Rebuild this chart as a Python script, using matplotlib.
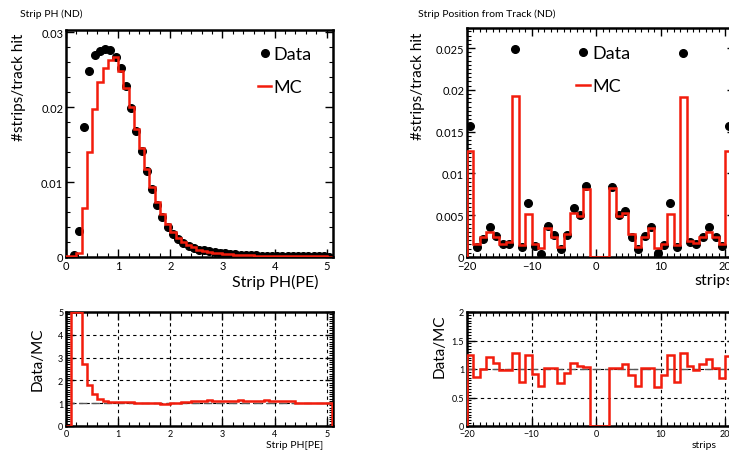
import numpy as np
import matplotlib
matplotlib.use('Agg')
import matplotlib.pyplot as plt
from matplotlib.ticker import MultipleLocator, FixedLocator

plt.rcParams['font.family'] = ['Lato', 'DejaVu Sans']

# ---- Strip PH (ND): bins of 0.1 PE from 0 to 5.1
ph_mc = [0.0001, 0.00015, 0.0006, 0.0065, 0.0140, 0.0197, 0.0233, 0.0252, 0.0263, 0.0267,
         0.0248, 0.0226, 0.0200, 0.0171, 0.0145, 0.0117, 0.0093, 0.0073, 0.0057, 0.0044,
         0.0033, 0.0026, 0.0020, 0.0016, 0.0013, 0.0010, 0.0008, 0.0007, 0.0006, 0.0005,
         0.0004, 0.00035, 0.0003, 0.00027, 0.00024, 0.00021, 0.00019, 0.00017, 0.00015, 0.00014,
         0.00013, 0.00012, 0.00011, 0.0001, 0.0001, 0.00009, 0.00008, 0.00008, 0.00007, 0.00007,
         0.00006]
ph_data = [0.0, 0.0003, 0.0035, 0.0174, 0.0248, 0.0269, 0.0275, 0.0278, 0.0276, 0.0267,
           0.0252, 0.0228, 0.0199, 0.0168, 0.0141, 0.0115, 0.0091, 0.0069, 0.0053, 0.0040,
           0.0031, 0.0024, 0.0019, 0.0015, 0.0012, 0.0010, 0.0009, 0.0008, 0.0007, 0.0006,
           0.0005, 0.00042, 0.00036, 0.00031, 0.00027, 0.00024, 0.00021, 0.00019, 0.00017, 0.00015,
           0.00014, 0.00013, 0.00012, 0.00011, 0.0001, 0.00009, 0.00008, 0.00008, 0.00007, 0.00007,
           0.00006]
ph_ratio = [0.0, 5.0, 5.0, 2.7, 1.8, 1.4, 1.2, 1.1, 1.05, 1.05,
            1.05, 1.05, 1.04, 1.03, 1.02, 1.02, 1.0, 1.0, 0.97, 0.97,
            1.0, 1.02, 1.04, 1.06, 1.08, 1.1, 1.1, 1.12, 1.1, 1.1,
            1.08, 1.1, 1.1, 1.12, 1.1, 1.08, 1.1, 1.1, 1.12, 1.1,
            1.1, 1.1, 1.1, 1.1, 1.0, 1.0, 1.0, 1.0, 1.0, 1.0,
            1.0]

# ---- Strip Position from Track (ND): 1-strip bins from -20 to 21
pos_mc = [0.0127, 0.0015, 0.0024, 0.0030, 0.0024, 0.0016, 0.0018, 0.0193, 0.0014, 0.0052,
          0.0016, 0.0011, 0.0035, 0.0024, 0.0012, 0.0027, 0.0053, 0.0049, 0.0081, 0.0,
          0.0, 0.0, 0.0083, 0.0049, 0.0053, 0.0027, 0.0012, 0.0024, 0.0035, 0.0011,
          0.0016, 0.0052, 0.0014, 0.0192, 0.0019, 0.0017, 0.0024, 0.0030, 0.0024, 0.0016,
          0.0127]
pos_data = [0.0157, 0.0012, 0.0022, 0.0036, 0.0025, 0.0015, 0.0016, 0.0249, 0.0012, 0.0065,
            0.0013, 0.0004, 0.0037, 0.0026, 0.0009, 0.0026, 0.0059, 0.0050, 0.0085, 0.0,
            0.0, 0.0, 0.0084, 0.0050, 0.0055, 0.0024, 0.0009, 0.0025, 0.0036, 0.0005,
            0.0014, 0.0065, 0.0012, 0.0244, 0.0018, 0.0016, 0.0024, 0.0036, 0.0024, 0.0013,
            0.0157]
pos_ratio = [1.25, 0.86, 1.0, 1.21, 1.1, 0.98, 0.99, 1.28, 0.78, 1.25,
             0.92, 0.71, 1.02, 1.02, 0.75, 0.93, 1.1, 1.06, 1.03, 0.0,
             0.0, 0.0, 1.02, 1.02, 1.08, 0.9, 0.71, 1.02, 1.02, 0.68,
             0.9, 1.25, 0.78, 1.28, 1.06, 0.99, 1.08, 1.18, 1.02, 0.84,
             1.22]

ph_edges = np.linspace(0, 5.1, len(ph_mc) + 1)
pos_edges = np.linspace(-20, 21, len(pos_mc) + 1)

W, H = 729, 456
fig = plt.figure(figsize=(W / 100, H / 100), dpi=100)


def px_axes(x0, y0, x1, y1):
    return fig.add_axes([x0 / W, 1 - y1 / H, (x1 - x0) / W, (y1 - y0) / H])


def root_style(ax, size):
    for s in ax.spines.values():
        s.set_linewidth(1.8)
    ax.tick_params(which='both', direction='in', top=True, right=True, labelsize=size, pad=2)
    ax.tick_params(which='major', length=6, width=1.0)
    ax.tick_params(which='minor', length=3, width=0.8)


RED = '#f21c0c'

ax1 = px_axes(66, 31, 333, 258)
ax2 = px_axes(467, 29, 735, 258)
ax3 = px_axes(66, 313, 333, 427)
ax4 = px_axes(467, 313, 735, 427)

# top left
ph_c = (ph_edges[:-1] + ph_edges[1:]) / 2
d = np.array(ph_data)
ax1.stairs(ph_mc, ph_edges, color=RED, lw=1.8, label='MC', zorder=3)
ax1.plot(ph_c[d > 0], d[d > 0], 'o', color='k', ms=5.5, label='Data', zorder=2)
ax1.set_xlim(0, 5.12)
ax1.set_ylim(0, 0.0303)
ax1.xaxis.set_major_locator(MultipleLocator(1))
ax1.xaxis.set_minor_locator(MultipleLocator(0.2))
ax1.yaxis.set_major_locator(FixedLocator([0, 0.01, 0.02, 0.03]))
ax1.yaxis.set_minor_locator(MultipleLocator(0.002))
ax1.set_yticklabels(['0', '0.01', '0.02', '0.03'])
root_style(ax1, 8)
ax1.set_xlabel('Strip PH(PE)', fontsize=11.5, loc='right')
ax1.xaxis.set_label_coords(0.945, -0.075)
ax1.set_ylabel('#strips/track hit', fontsize=11, loc='top')
ax1.yaxis.set_label_coords(-0.15, 0.99)
h, l = ax1.get_legend_handles_labels()
ax1.legend(h[::-1], l[::-1], loc='upper left', bbox_to_anchor=(0.72, 0.928), frameon=False,
           fontsize=13, handlelength=0.7, handletextpad=0.15, labelspacing=0.95, borderpad=0,
           borderaxespad=0)

# top right
pos_c = (pos_edges[:-1] + pos_edges[1:]) / 2
d = np.array(pos_data)
ax2.stairs(pos_mc, pos_edges, color=RED, lw=1.8, label='MC', zorder=3)
ax2.plot(pos_c[d > 0], d[d > 0], 'o', color='k', ms=5.5, label='Data', zorder=2)
ax2.set_xlim(-20, 21.5)
ax2.set_ylim(0, 0.0274)
ax2.xaxis.set_major_locator(MultipleLocator(10))
ax2.xaxis.set_minor_locator(MultipleLocator(1))
ax2.yaxis.set_major_locator(FixedLocator([0, 0.005, 0.01, 0.015, 0.02, 0.025]))
ax2.yaxis.set_minor_locator(MultipleLocator(0.0005))
ax2.set_yticklabels(['0', '0.005', '0.01', '0.015', '0.02', '0.025'])
root_style(ax2, 8)
ax2.set_xlabel('strips', fontsize=11.5, loc='left')
ax2.xaxis.set_label_coords(0.85, -0.07)
ax2.set_ylabel('#strips/track hit', fontsize=11, loc='top')
ax2.yaxis.set_label_coords(-0.155, 0.985)
h, l = ax2.get_legend_handles_labels()
ax2.legend(h[::-1], l[::-1], loc='upper left', bbox_to_anchor=(0.405, 0.925), frameon=False,
           fontsize=13, handlelength=0.8, handletextpad=0.15, labelspacing=0.95, borderpad=0,
           borderaxespad=0)

# bottom left ratio
ax3.stairs(ph_ratio, ph_edges, color=RED, lw=1.8, zorder=3)
ax3.axhline(1, color='0.35', lw=1.0, ls=(0, (6, 3)), zorder=2)
ax3.set_xlim(0, 5.12)
ax3.set_ylim(0, 5)
ax3.xaxis.set_major_locator(MultipleLocator(1))
ax3.xaxis.set_minor_locator(MultipleLocator(0.2))
ax3.yaxis.set_major_locator(MultipleLocator(1))
ax3.yaxis.set_minor_locator(MultipleLocator(0.1))
ax3.grid(True, which='major', color='k', ls=(0, (3, 3)), lw=0.8)
root_style(ax3, 6.5)
ax3.set_xlabel('Strip PH[PE]', fontsize=7.5, loc='right')
ax3.xaxis.set_label_coords(0.965, -0.12)
ax3.set_ylabel('Data/MC', fontsize=11, loc='top')
ax3.yaxis.set_label_coords(-0.08, 0.87)

# bottom right ratio
ax4.stairs(pos_ratio, pos_edges, color=RED, lw=1.8, zorder=3)
ax4.axhline(1, color='0.35', lw=1.0, ls=(0, (6, 3)), zorder=2)
ax4.set_xlim(-20, 21.5)
ax4.set_ylim(0, 2)
ax4.xaxis.set_major_locator(MultipleLocator(10))
ax4.xaxis.set_minor_locator(MultipleLocator(1))
ax4.yaxis.set_major_locator(FixedLocator([0, 0.5, 1, 1.5, 2]))
ax4.yaxis.set_minor_locator(MultipleLocator(0.05))
ax4.set_yticklabels(['0', '0.5', '1', '1.5', '2'])
ax4.grid(True, which='major', color='k', ls=(0, (3, 3)), lw=0.8)
root_style(ax4, 6.5)
ax4.set_xlabel('strips', fontsize=7.5, loc='left')
ax4.xaxis.set_label_coords(0.84, -0.12)
ax4.set_ylabel('Data/MC', fontsize=11, loc='top')
ax4.yaxis.set_label_coords(-0.077, 0.985)

fig.text(20 / W, 1 - 14 / H, 'Strip PH (ND)', fontsize=7.5, va='center', ha='left')
fig.text(418 / W, 1 - 14 / H, 'Strip Position from Track (ND)', fontsize=7.5, va='center', ha='left')

fig.savefig('out.png', dpi=100)
